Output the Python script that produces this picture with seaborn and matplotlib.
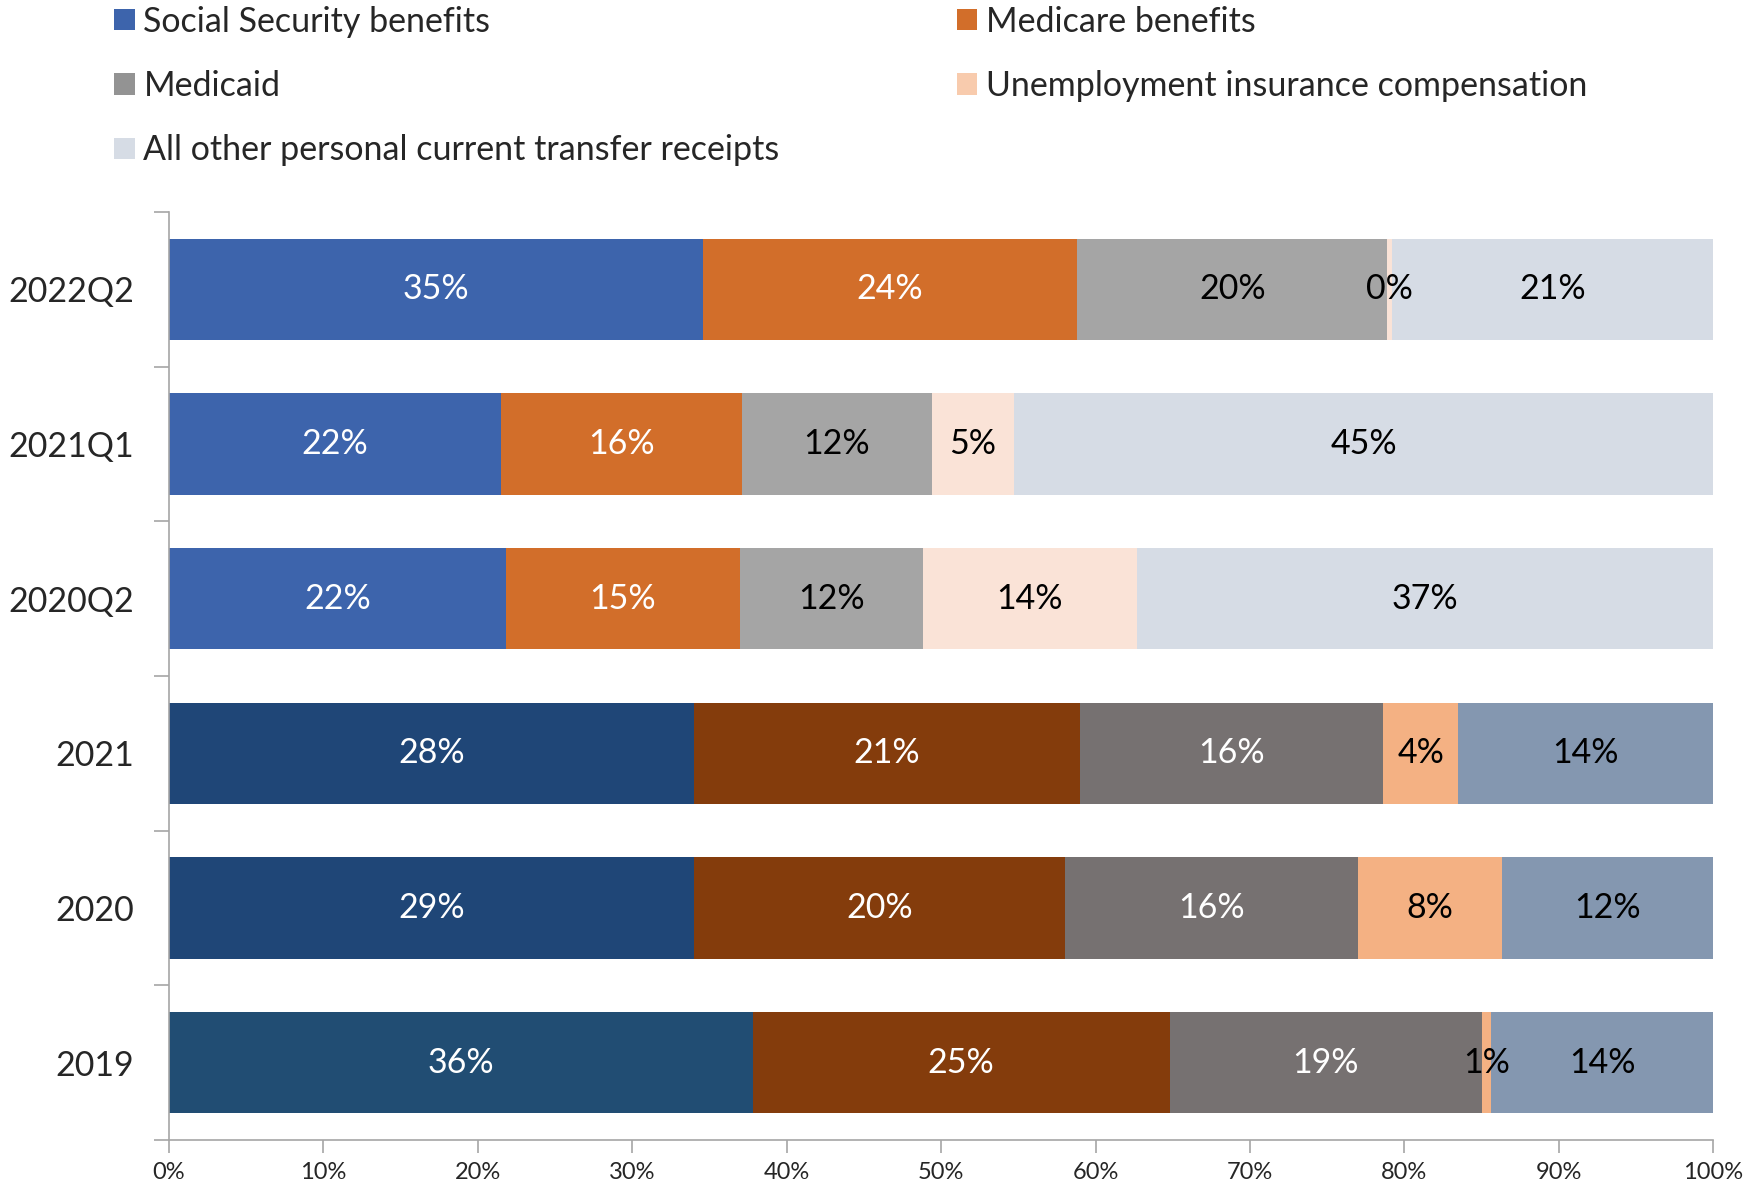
import numpy as np
import pandas as pd
import matplotlib
matplotlib.use("Agg")
import matplotlib.pyplot as plt
from matplotlib.patches import Patch
from matplotlib import font_manager
import seaborn as sns

# ---------------- data ----------------
categories = ["2022Q2", "2021Q1", "2020Q2", "2021", "2020", "2019"]
series_names = ["Social Security benefits", "Medicare benefits", "Medicaid",
                "Unemployment insurance compensation",
                "All other personal current transfer receipts"]

# bar widths (% of total)
social_security = [34.6, 21.5, 21.8, 34.0, 34.0, 37.8]
medicare        = [24.2, 15.6, 15.2, 25.0, 24.0, 27.0]
medicaid        = [20.1, 12.3, 11.8, 19.6, 19.0, 20.2]
unemployment    = [0.3, 5.3, 13.9, 4.9, 9.3, 0.6]
all_other       = [20.8, 45.3, 37.3, 16.5, 13.7, 14.4]

# data labels as printed on the bars
lab_social_security = ["35%", "22%", "22%", "28%", "29%", "36%"]
lab_medicare        = ["24%", "16%", "15%", "21%", "20%", "25%"]
lab_medicaid        = ["20%", "12%", "12%", "16%", "16%", "19%"]
lab_unemployment    = ["0%", "5%", "14%", "4%", "8%", "1%"]
lab_all_other       = ["21%", "45%", "37%", "14%", "12%", "14%"]

x_ticks = [0, 10, 20, 30, 40, 50, 60, 70, 80, 90, 100]
x_tick_labels = ["0%", "10%", "20%", "30%", "40%", "50%", "60%", "70%", "80%", "90%", "100%"]

# ---------------- styling ----------------
q_colors = ["#3D64AC", "#D26E2A", "#A5A5A5", "#FAE3D7", "#D6DCE5"]
a_colors = ["#1F4677", "#843C0C", "#767171", "#F4B183", "#8497B0"]
ss_2019 = "#214D73"
legend_colors = ["#3D64AC", "#D26E2A", "#939393", "#F8CBAD", "#D6DCE5"]

sns.set_theme(style="white")
avail = {f.name for f in font_manager.fontManager.ttflist}
fams = [f for f in ["Liberation Sans Narrow", "Lato", "DejaVu Sans"] if f in avail]
plt.rcParams["font.family"] = fams

series_vals = [social_security, medicare, medicaid, unemployment, all_other]
series_labs = [lab_social_security, lab_medicare, lab_medicaid, lab_unemployment, lab_all_other]

fig = plt.figure(figsize=(17.49, 11.88), dpi=100)
ax = fig.add_axes([0.0966, 0.0404, 0.9796 - 0.0966, 0.8215 - 0.0404])

vals = np.array(series_vals, dtype=float)       # shape (5, 6)
cum = np.cumsum(vals, axis=0)
starts = cum - vals

bar_h = 0.655
# draw cumulative bars from longest to shortest so that each segment shows
for s in range(len(series_names) - 1, -1, -1):
    row_colors = []
    for i, c in enumerate(categories):
        if i < 3:
            row_colors.append(q_colors[s])
        else:
            row_colors.append(a_colors[s])
    if s == 0:
        row_colors[5] = ss_2019
    df = pd.DataFrame({"cat": categories, "val": cum[s]})
    sns.barplot(data=df, x="val", y="cat", hue="cat", order=categories,
                hue_order=categories, palette=dict(zip(categories, row_colors)),
                orient="h", width=bar_h, legend=False, ax=ax,
                linewidth=0, edgecolor="none", saturation=1)

# labels
label_fs = 24.5
for s in range(len(series_names)):
    for i, c in enumerate(categories):
        center = starts[s, i] + vals[s, i] / 2
        if s in (0, 1) or (s == 2 and i >= 3):
            tc = "white"
        else:
            tc = "black"
        ax.text(center, i, series_labs[s][i], ha="center", va="center",
                color=tc, fontsize=label_fs)

ax.set_xlim(0, 100)
ax.set_ylim(5.5, -0.5)
ax.set_xlabel("")
ax.set_ylabel("")
ax.set_xticks(x_ticks)
ax.set_xticklabels(x_tick_labels, fontsize=17)
ax.tick_params(axis="x", which="major", length=9, width=1.2, color="#A6A6A6",
               direction="out", pad=7, bottom=True)
ax.set_yticks(range(len(categories)))
ax.set_yticklabels(categories, fontsize=label_fs)
ax.tick_params(axis="y", which="major", length=0, pad=25)
ax.set_yticks(np.arange(-0.5, 6.0, 1.0), minor=True)
ax.tick_params(axis="y", which="minor", length=11, width=1.2, color="#A6A6A6",
               direction="out", left=True)
for sp in ["top", "right"]:
    ax.spines[sp].set_visible(False)
for sp in ["left", "bottom"]:
    ax.spines[sp].set_color("#A6A6A6")
    ax.spines[sp].set_linewidth(1.2)
ax.grid(False)

# legend: column-major order for ncol=2
order = [0, 2, 4, 1, 3]
handles = [Patch(facecolor=legend_colors[k], edgecolor="none") for k in order]
labels = [series_names[k] for k in order]
fig.legend(handles, labels, ncol=2, loc="upper left",
           bbox_to_anchor=(0.0575, 1.0067), frameon=False, fontsize=24.5,
           handlelength=0.6, handleheight=0.6, handletextpad=0.26,
           labelspacing=0.95, columnspacing=5.2, borderaxespad=0)

fig.savefig("out.png", dpi=100)
